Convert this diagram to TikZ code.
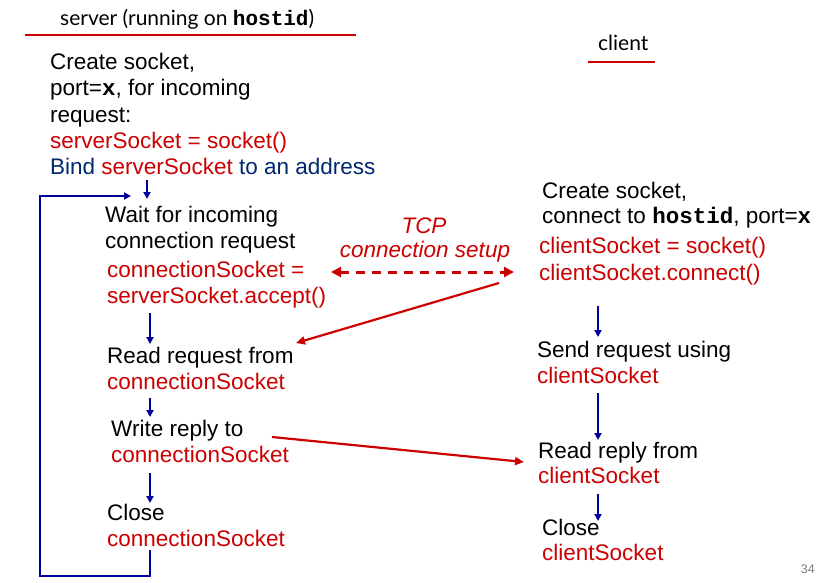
\documentclass[tikz,border=0pt]{standalone}
\usepackage{fontspec}
\setmainfont{Liberation Sans}
\setmonofont{Liberation Mono}
\newfontfamily\hdrfont{Lato}
\usetikzlibrary{arrows.meta}
\definecolor{myred}{RGB}{204,0,0}
\definecolor{myblue}{RGB}{0,0,153}
\definecolor{mynavy}{RGB}{0,40,110}
\newcommand{\Rd}[1]{\textcolor{myred}{#1}}
\newcommand{\mb}[1]{\textbf{\ttfamily #1}}
\tikzset{
  txt/.style={anchor=base west, inner sep=0pt, font=\fontsize{22.5}{26}\selectfont},
  redtxt/.style={txt, text=myred},
  hdr/.style={anchor=base west, inner sep=0pt, font=\hdrfont\fontsize{21}{24}\selectfont},
  flow/.style={draw=myblue, line width=2.2pt, -{Triangle[length=7pt,width=7pt]}},
  msg/.style={draw=myred, line width=2.2pt, -{Triangle[length=9pt,width=8pt]}},
  hline/.style={draw=myred, line width=1.5pt},
}
\begin{document}
\begin{tikzpicture}[x=1pt,y=-1pt]
\useasboundingbox[fill=white] (0,0) rectangle (824,582);
% headers
\node[hdr] (sh) at (60,25) {server (running on \mb{hostid})};
\coordinate (shl) at (25,35); \coordinate (shr) at (356,35);
\draw[hline] (shl) -- (shr);
\node[hdr] (ch) at (598,50) {client};
\coordinate (chl) at (588,62); \coordinate (chr) at (655,62);
\draw[hline] (chl) -- (chr);
% server side
\node[txt] (s1) at (50,69) {Create socket,};
\node[txt] (s2) at (50,95) {port=\mb{x}, for incoming};
\node[txt] (s3) at (50,122) {request:};
\node[redtxt] (s4) at (50,148) {serverSocket = socket()};
\node[txt, text=mynavy] (s5) at (50,174) {Bind \Rd{serverSocket} to an address};
\node[txt] (w1) at (105,222) {Wait for incoming};
\node[txt] (w2) at (105,248) {connection request};
\node[redtxt] (w3) at (107,277) {connectionSocket =};
\node[redtxt] (w4) at (107,303) {serverSocket.accept()};
\node[txt] (r1) at (107,363) {Read request from};
\node[redtxt] (r2) at (107,389) {connectionSocket};
\node[txt] (p1) at (111,436) {Write reply to};
\node[redtxt] (p2) at (111,462) {connectionSocket};
\node[txt] (c1) at (107,520) {Close};
\node[redtxt] (c2) at (107,546) {connectionSocket};
% client side
\node[txt] (k1) at (542,198) {Create socket,};
\node[txt] (k2) at (542,223) {connect to \mb{hostid}, port=\mb{x}};
\node[redtxt] (k3) at (539,253) {clientSocket = socket()};
\node[redtxt] (k4) at (539,280) {clientSocket.connect()};
\node[txt] (q1) at (537,357) {Send request using};
\node[redtxt] (q2) at (537,383) {clientSocket};
\node[txt] (e1) at (538,458) {Read reply from};
\node[redtxt] (e2) at (538,483) {clientSocket};
\node[txt] (f1) at (542,535) {Close};
\node[redtxt] (f2) at (542,560) {clientSocket};
% TCP label
\node[anchor=base, inner sep=0pt, text=myred, font=\fontsize{22.5}{26}\selectfont\itshape] (t1) at (424,233) {TCP};
\node[anchor=base, inner sep=0pt, text=myred, font=\fontsize{22.5}{26}\selectfont\itshape] (t2) at (425,257) {connection setup};
\node[anchor=base east, inner sep=0pt, text=gray, font=\fontsize{12.5}{14}\selectfont] (pg) at (815,573) {34};
% server flow arrows
\coordinate (a0s) at (147,180); \coordinate (a0e) at (147,199);
\draw[flow] (a0s) -- (a0e);
\coordinate (a1s) at (150,313); \coordinate (a1e) at (150,344);
\draw[flow] (a1s) -- (a1e);
\coordinate (a2s) at (150,398); \coordinate (a2e) at (150,417);
\draw[flow] (a2s) -- (a2e);
\coordinate (a3s) at (150,473); \coordinate (a3e) at (150,503);
\draw[flow] (a3s) -- (a3e);
% loop
\coordinate (l0) at (150,550); \coordinate (l1) at (150,576);
\coordinate (l2) at (40,576); \coordinate (l3) at (40,196); \coordinate (l4) at (131,196);
\draw[flow] (l0) -- (l1) -- (l2) -- (l3) -- (l4);
% client flow arrows
\coordinate (b1s) at (598,306); \coordinate (b1e) at (598,337);
\draw[flow] (b1s) -- (b1e);
\coordinate (b2s) at (598,393); \coordinate (b2e) at (598,440);
\draw[flow] (b2s) -- (b2e);
\coordinate (b3s) at (598,494); \coordinate (b3e) at (598,521);
\draw[flow] (b3s) -- (b3e);
% messages
\coordinate (d1) at (331,272); \coordinate (d2) at (514,272);
\draw[draw=myred, line width=3pt, dash pattern=on 9pt off 7pt, {Triangle[length=10pt,width=10pt]}-{Triangle[length=10pt,width=10pt]}] (d1) -- (d2);
\coordinate (m1s) at (499,283); \coordinate (m1e) at (296,343);
\draw[msg] (m1s) -- (m1e);
\coordinate (m2s) at (272,437); \coordinate (m2e) at (524,462);
\draw[msg] (m2s) -- (m2e);
\end{tikzpicture}
\end{document}
